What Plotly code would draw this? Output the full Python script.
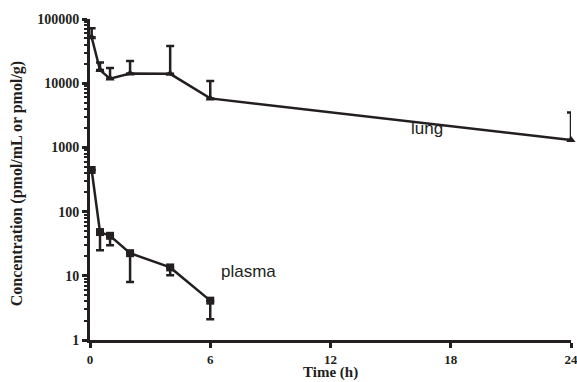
import plotly.graph_objects as go

time_lung = [0.083, 0.5, 1, 2, 4, 6, 24]
lung_mean = [52000, 16000, 11800, 14200, 14000, 5800, 1300]
lung_err_up = [20000, 5000, 5500, 8000, 24000, 5000, 2200]

time_plasma = [0.083, 0.5, 1, 2, 4, 6]
plasma_mean = [445, 48, 42, 22.5, 13.5, 4.1]
plasma_err_down = [0, 23, 12, 14.5, 3.3, 2.0]

x_ticks = [0, 6, 12, 18, 24]
y_ticks = [1, 10, 100, 1000, 10000, 100000]
y_ticktext = ["1", "10", "100", "1000", "10000", "100000"]

minor_vals = [m * 10 ** d for d in range(5) for m in range(2, 10)]

INK = "#231f20"
fig = go.Figure()
fig.add_trace(go.Scatter(
    x=time_lung, y=lung_mean, mode="lines+markers",
    line=dict(color=INK, width=2.5),
    marker=dict(symbol="triangle-up", size=8, color=INK),
    error_y=dict(type="data", symmetric=False, array=lung_err_up,
                 arrayminus=[0] * len(lung_err_up), color=INK,
                 thickness=2.5, width=4),
    cliponaxis=False, showlegend=False))
fig.add_trace(go.Scatter(
    x=time_plasma, y=plasma_mean, mode="lines+markers",
    line=dict(color=INK, width=2.5),
    marker=dict(symbol="square", size=8, color=INK),
    error_y=dict(type="data", symmetric=False, array=[0] * len(plasma_err_down),
                 arrayminus=plasma_err_down, color=INK,
                 thickness=2.5, width=4),
    cliponaxis=False, showlegend=False))

fig.add_annotation(x=16.8, y=3.30, xref="x", yref="y", text="lung", showarrow=False,
                   font=dict(family="Liberation Sans, Arial", size=17, color=INK))
fig.add_annotation(x=7.9, y=1.06, xref="x", yref="y", text="plasma", showarrow=False,
                   font=dict(family="Liberation Sans, Arial", size=17, color=INK))

ytick_font = dict(family="Liberation Serif, Times New Roman", size=14, color=INK, weight="bold")
xtick_font = dict(family="Liberation Serif, Times New Roman", size=13, color=INK, weight="bold")
title_font = dict(family="Liberation Serif, Times New Roman", size=16, color=INK, weight="bold")
xtitle_font = dict(family="Liberation Serif, Times New Roman", size=15, color=INK, weight="bold")

# axis titles as annotations for exact placement
fig.add_annotation(x=(17 - 90) / 481, y=0.485, xref="paper", yref="paper",
                   text="Concentration (pmol/mL or pmol/g)", textangle=-90,
                   showarrow=False, xanchor="center", yanchor="middle", font=title_font)
fig.add_annotation(x=0.5, y=-42 / 321, xref="paper", yref="paper",
                   text="Time (h)", showarrow=False, xanchor="center", yanchor="bottom",
                   font=xtitle_font, borderpad=0)

fig.update_layout(
    template="none",
    width=577, height=382,
    margin=dict(l=90, r=6, t=19, b=42, autoexpand=False),
    paper_bgcolor="white", plot_bgcolor="white",
    xaxis=dict(range=[0, 24], tickvals=x_ticks, ticks="outside", ticklen=5, tickwidth=2.5,
               tickcolor=INK, showline=True, linewidth=3, linecolor=INK,
               showgrid=False, zeroline=False, automargin=False,
               ticklabeloverflow="allow", tickfont=xtick_font),
    yaxis=dict(type="log", range=[0, 5], tickvals=y_ticks, ticktext=y_ticktext,
               ticks="outside", ticklen=5, tickwidth=2.5, tickcolor=INK,
               showline=True, linewidth=3, linecolor=INK,
               showgrid=False, zeroline=False, automargin=False,
               ticklabeloverflow="allow",
               minor=dict(tickvals=minor_vals, ticks="outside", ticklen=3, tickwidth=1.5,
                          tickcolor=INK, showgrid=False),
               tickfont=ytick_font),
)
fig.write_html("out.html", config={"displayModeBar": False},
               post_script="document.body.style.margin='0';")
